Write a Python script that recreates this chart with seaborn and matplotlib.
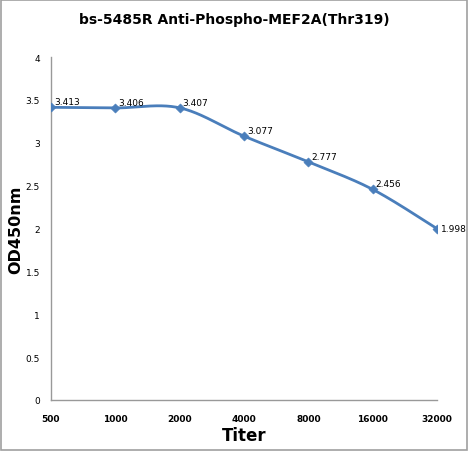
import numpy as np
import pandas as pd
import matplotlib
matplotlib.use("Agg")
import matplotlib.pyplot as plt
import seaborn as sns

# --- DATA ---
TITERS = ["500", "1000", "2000", "4000", "8000", "16000", "32000"]
OD450 = [3.413, 3.406, 3.407, 3.077, 2.777, 2.456, 1.998]

TITLE = "bs-5485R Anti-Phospho-MEF2A(Thr319)"
LINE_COLOR = "#4a7ebb"


def smooth_curve(xs, ys, n=40):
    """Excel-like smoothed line (Catmull-Rom through the points)."""
    pts = np.column_stack([xs, ys]).astype(float)
    padded = np.vstack([pts[0], pts, pts[-1]])
    out = []
    for i in range(len(pts) - 1):
        p0, p1, p2, p3 = padded[i], padded[i + 1], padded[i + 2], padded[i + 3]
        c1 = p1 + (p2 - p0) / 6
        c2 = p2 - (p3 - p1) / 6
        t = np.linspace(0, 1, n)[:, None]
        seg = ((1 - t) ** 3) * p1 + 3 * ((1 - t) ** 2) * t * c1 + 3 * (1 - t) * t ** 2 * c2 + t ** 3 * p2
        out.append(seg if i == 0 else seg[1:])
    seg = np.vstack(out)
    return seg[:, 0], seg[:, 1]


sns.set_theme(style="white")
plt.rcParams["font.family"] = ["DejaVu Sans"]
plt.rcParams["text.color"] = "black"

fig = plt.figure(figsize=(4.68, 4.52), dpi=100)
ax = fig.add_axes([51 / 468, 1 - 401 / 452, 386 / 468, 343 / 452])

xpos = np.arange(len(TITERS))
cx, cy = smooth_curve(xpos, OD450)
sns.lineplot(x=cx, y=cy, sort=False, color=LINE_COLOR, linewidth=2, ax=ax)
sns.scatterplot(x=xpos, y=OD450, marker="D", s=22, color=LINE_COLOR,
                edgecolor=LINE_COLOR, zorder=3, ax=ax)

# data labels
for i, v in enumerate(OD450):
    if i == len(OD450) - 1:
        ax.annotate(f"{v:.3f}", (xpos[i], v), xytext=(4, 0), textcoords="offset pixels",
                    ha="left", va="center", fontsize=6.5, color="black")
    else:
        ax.annotate(f"{v:.3f}", (xpos[i], v), xytext=(3, 1), textcoords="offset pixels",
                    ha="left", va="bottom", fontsize=6.5, color="black")

ax.set_xlim(0, len(TITERS) - 1)
ax.set_ylim(0, 4)
ax.set_xticks(xpos)
ax.set_xticklabels(TITERS)
ax.set_yticks(np.arange(0, 4.01, 0.5))
ax.set_yticklabels(["0", "0.5", "1", "1.5", "2", "2.5", "3", "3.5", "4"])
ax.tick_params(axis="both", length=0, labelsize=6.5, colors="black")
ax.tick_params(axis="x", pad=10)
ax.tick_params(axis="y", pad=8)
for lbl in ax.get_xticklabels():
    lbl.set_fontweight("bold")

for side in ["top", "right"]:
    ax.spines[side].set_visible(False)
for side in ["left", "bottom"]:
    ax.spines[side].set_color("#999999")
    ax.spines[side].set_linewidth(1)
ax.set_facecolor("white")

ax.set_xlabel("Titer", fontsize=12, fontweight="bold", color="black")
ax.xaxis.set_label_coords(0.5, -26 / 343)
ax.set_ylabel("OD450nm", fontsize=11.5, fontweight="bold", color="black")
ax.yaxis.set_label_coords(-28 / 386, 0.5)
fig.text(0.5, 0.955, TITLE, ha="center", va="center", fontsize=10, fontweight="bold", color="black")

# outer border
fig.patches.append(plt.Rectangle((0.002, 0.002), 0.996, 0.996, transform=fig.transFigure,
                                 fill=False, edgecolor="#a0a0a0", linewidth=1.2))

fig.savefig("out.png", dpi=100, facecolor="white")
